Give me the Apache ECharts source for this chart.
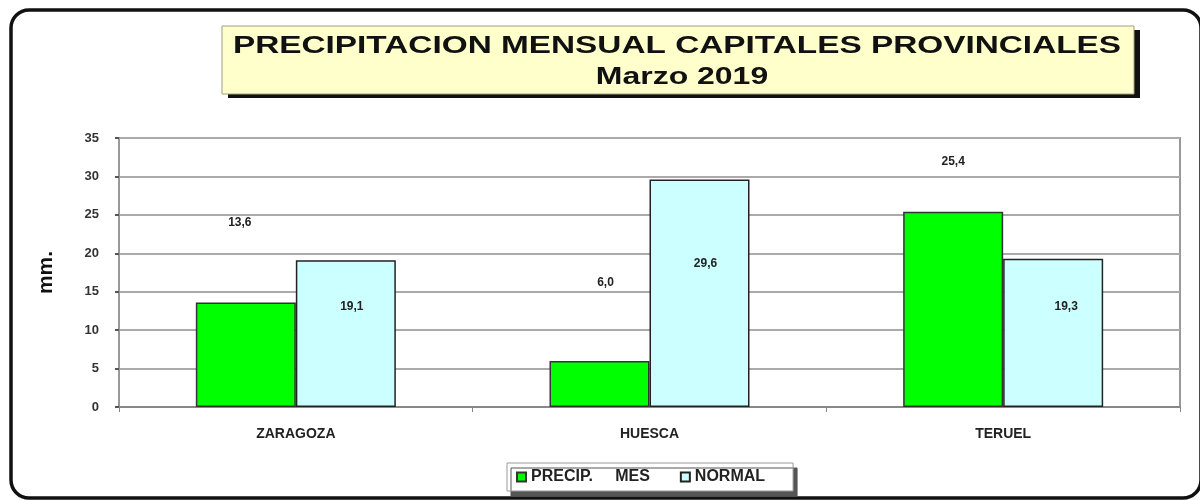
<!DOCTYPE html>
<html>
<head>
<meta charset="utf-8">
<script src="https://cdn.jsdelivr.net/npm/echarts@6/dist/echarts.min.js"></script>
<style>
  html, body { margin: 0; padding: 0; background: #fff; }
  #chart { width: 1200px; height: 500px; }
</style>
</head>
<body>
<div id="chart"></div>
<script>
/* ================================
   DATA
================================ */
const cities   = ["ZARAGOZA", "HUESCA", "TERUEL"];
const precipMes = [13.6, 6.0, 25.4];
const normal    = [19.1, 29.6, 19.3];
const yTicks    = [0, 5, 10, 15, 20, 25, 30, 35];

// label placement, copied by eye from the original (not data)
const precipLift = [-69, -67, -39];
const precipShiftX = [-6, 6, 0];
const normalDrop = [35, 73, 37];
const normalShiftX = [6, 6, 13];

const fmt = v => v.toFixed(1).replace(".", ",");
const FONT = "Liberation Sans";

/* ================================
   SERIES DATA
================================ */
const precipData = precipMes.map((v, i) => ({
  value: v,
  label: { offset: [precipShiftX[i], precipLift[i]] }
}));
const normalData = normal.map((v, i) => ({
  value: v,
  label: { offset: [normalShiftX[i], normalDrop[i]] }
}));

const chart = echarts.init(document.getElementById("chart"));

chart.setOption({
  animation: false,
  backgroundColor: "#fff",
  textStyle: { fontFamily: FONT },
  grid: {
    left: 119, right: 20, top: 138, bottom: 93,
    show: true, borderColor: "#999", borderWidth: 2
  },
  legend: {
    left: 507, top: 463,
    padding: [6, 28, 6, 9],
    backgroundColor: "#fff",
    borderColor: "#999",
    borderWidth: 1,
    borderRadius: 0,
    shadowColor: "#555",
    shadowOffsetX: 4,
    shadowOffsetY: 5,
    shadowBlur: 0,
    itemWidth: 9, itemHeight: 9,
    itemGap: 30,
    icon: "rect",
    textStyle: { fontFamily: FONT, fontWeight: "bold", fontSize: 16, color: "#222" },
    formatter: name => name.replace(" ", "     "),
    data: ["PRECIP. MES", "NORMAL"]
  },
  xAxis: {
    type: "category",
    data: cities,
    axisLine: { lineStyle: { color: "#888", width: 2 } },
    axisTick: { show: true, length: 5, lineStyle: { color: "#888" } },
    axisLabel: { margin: 20, fontFamily: FONT, fontWeight: "bold", fontSize: 14, color: "#222" }
  },
  yAxis: {
    type: "value",
    min: 0, max: 35, interval: 5,
    name: "mm.",
    nameLocation: "middle",
    nameGap: 62,
    nameRotate: 90,
    nameTextStyle: { fontFamily: FONT, fontWeight: "bold", fontSize: 21, color: "#111" },
    axisLine: { show: true, lineStyle: { color: "#999", width: 2 } },
    axisTick: { show: true, length: 4, lineStyle: { color: "#555", width: 2 } },
    axisLabel: {
      margin: 20, fontFamily: FONT, fontWeight: "bold", fontSize: 13, color: "#333",
      formatter: v => (yTicks.includes(v) ? String(v) : "")
    },
    splitLine: { lineStyle: { color: "#aaa", width: 2 } }
  },
  series: [
    {
      name: "PRECIP. MES",
      type: "bar",
      data: precipData,
      barWidth: 100,
      barGap: "0%",
      itemStyle: { color: "#00ff00", borderColor: "#333", borderWidth: 1.5 },
      label: {
        show: true, position: "top",
        fontFamily: FONT, fontWeight: "bold", fontSize: 12, color: "#222",
        formatter: p => fmt(p.value)
      }
    },
    {
      name: "NORMAL",
      type: "bar",
      data: normalData,
      barWidth: 100,
      itemStyle: { color: "#ccffff", borderColor: "#222", borderWidth: 1.5 },
      label: {
        show: true, position: "insideTop",
        fontFamily: FONT, fontWeight: "bold", fontSize: 12, color: "#222",
        formatter: p => fmt(p.value)
      }
    }
  ],
  graphic: [
    /* outer rounded frame */
    {
      type: "rect", z: -1, silent: true,
      shape: { x: 11, y: 10, width: 1190, height: 488, r: 18 },
      style: { fill: "none", stroke: "#111", lineWidth: 3.5 }
    },
    /* title box shadow + box */
    {
      type: "rect", z: 10, silent: true,
      shape: { x: 228, y: 30, width: 912, height: 68 },
      style: { fill: "#111" }
    },
    {
      type: "rect", z: 11, silent: true,
      shape: { x: 222, y: 26, width: 912, height: 68 },
      style: { fill: "#ffffcc", stroke: "#a0a080", lineWidth: 1 }
    },
    {
      type: "text", z: 12, silent: true,
      x: 677, y: 47, scaleX: 1.45,
      style: {
        text: "PRECIPITACION MENSUAL CAPITALES PROVINCIALES",
        font: "bold 23px " + FONT, fill: "#111",
        align: "center", verticalAlign: "middle"
      }
    },
    {
      type: "text", z: 12, silent: true,
      x: 682, y: 78, scaleX: 1.39,
      style: {
        text: "Marzo 2019",
        font: "bold 23px " + FONT, fill: "#111",
        align: "center", verticalAlign: "middle"
      }
    }
  ]
});
</script>
</body>
</html>
